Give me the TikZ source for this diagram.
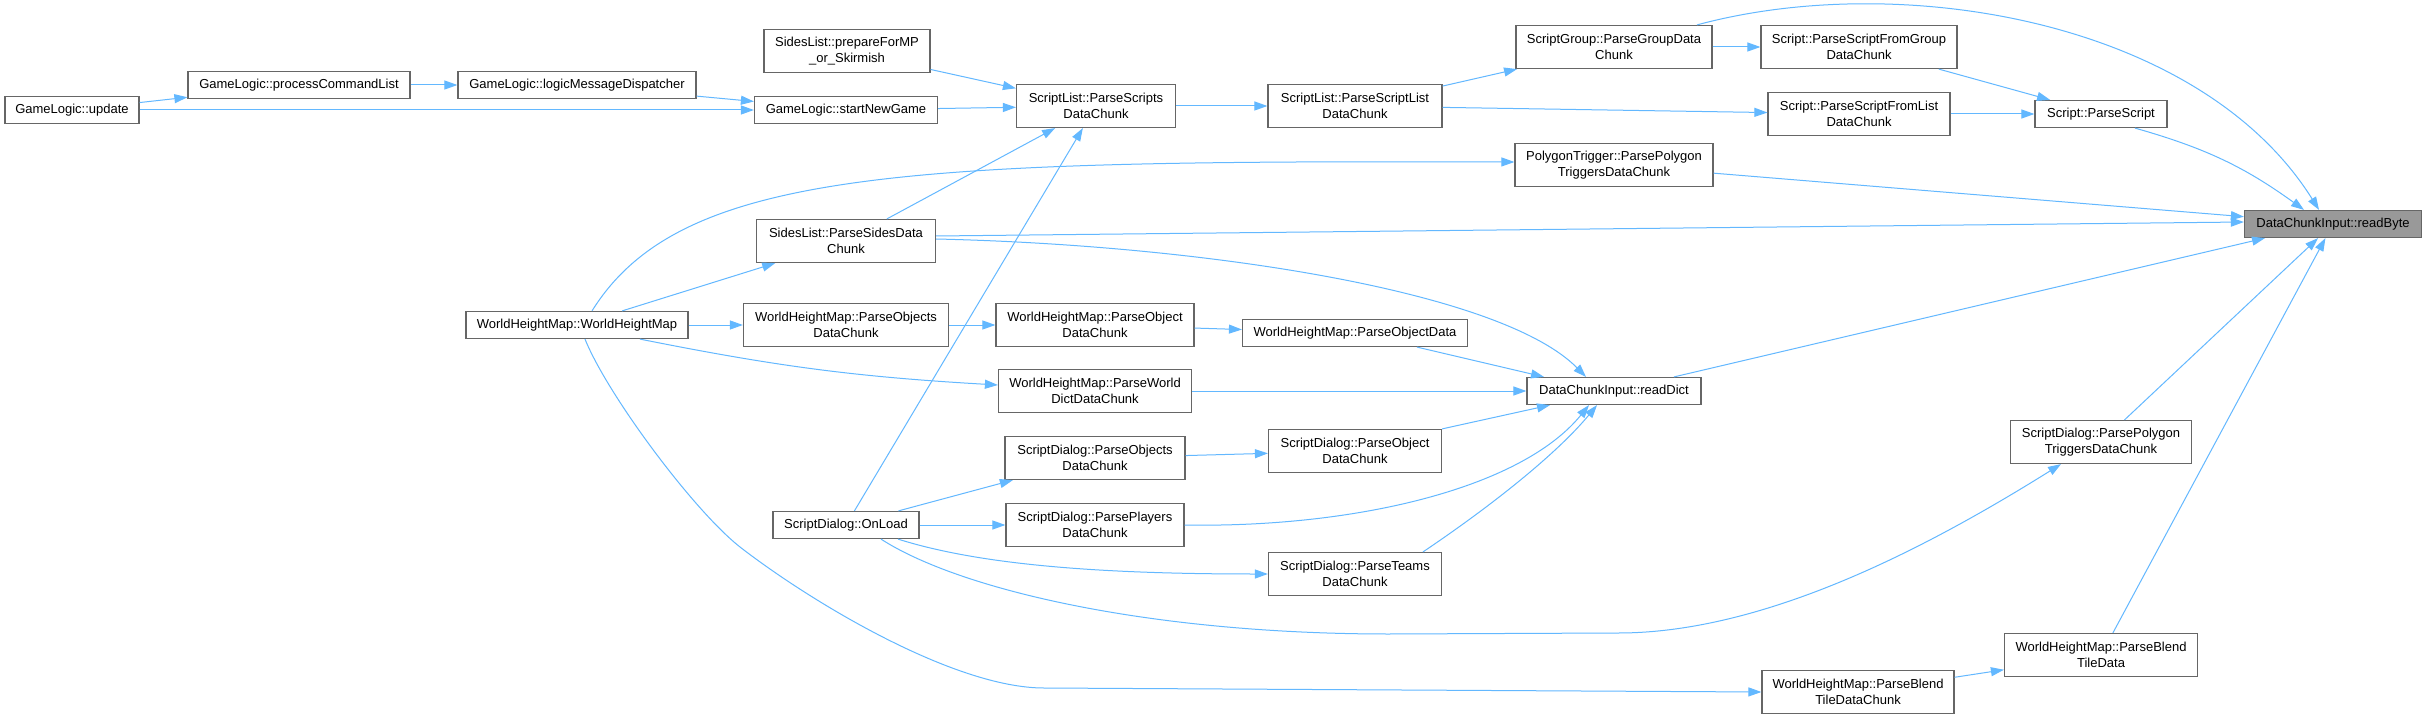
\documentclass[tikz,border=0pt]{standalone}
\usepackage{fontspec}
\setmainfont{Liberation Sans}
\usetikzlibrary{arrows.meta}
\definecolor{edgeblue}{HTML}{63B8FF}
\definecolor{boxgray}{HTML}{666666}
\definecolor{curfill}{HTML}{999999}
\tikzset{
  box/.style={draw=boxgray, line width=1.2pt, fill=white, inner sep=0pt, align=center,
    font=\fontsize{13pt}{15.5pt}\selectfont, minimum height=27pt},
  box2/.style={box, minimum height=43pt},
  cur/.style={box, fill=curfill},
  edge/.style={draw=edgeblue, line width=1pt, -{Triangle[length=13pt,width=9pt]}}
}
\begin{document}
\begin{tikzpicture}[x=1pt,y=-1pt]
\useasboundingbox[fill=white] (0,0) rectangle (2427,719);
% nodes
\node[box, minimum width=134pt] (upd) at (72,110) {GameLogic::update};
\node[box, minimum width=222pt] (pcl) at (299,85) {GameLogic::processCommandList};
\node[box, minimum width=238pt] (lmd) at (577,85) {GameLogic::logicMessageDispatcher};
\node[box, minimum width=222pt] (whm) at (577,325) {WorldHeightMap::WorldHeightMap};
\node[box2, minimum width=166pt] (pmp) at (847,51) {SidesList::prepareForMP\\\_or\_Skirmish};
\node[box, minimum width=183pt] (sng) at (846,110) {GameLogic::startNewGame};
\node[box2, minimum width=159pt] (psd) at (1096,106) {ScriptList::ParseScripts\\DataChunk};
\node[box2, minimum width=174pt] (psl) at (1355,106) {ScriptList::ParseScriptList\\DataChunk};
\node[box2, minimum width=179pt] (sds) at (846,241) {SidesList::ParseSidesData\\Chunk};
\node[box2, minimum width=205pt] (wos) at (846,325) {WorldHeightMap::ParseObjects\\DataChunk};
\node[box2, minimum width=198pt] (wob) at (1095,325) {WorldHeightMap::ParseObject\\DataChunk};
\node[box, minimum width=225pt] (wod) at (1355,333) {WorldHeightMap::ParseObjectData};
\node[box2, minimum width=196pt] (sgp) at (1614,47) {ScriptGroup::ParseGroupData\\Chunk};
\node[box2, minimum width=196pt] (sfg) at (1859,47) {Script::ParseScriptFromGroup\\DataChunk};
\node[box2, minimum width=182pt] (sfl) at (1859,114) {Script::ParseScriptFromList\\DataChunk};
\node[box, minimum width=132pt] (psc) at (2101,114) {Script::ParseScript};
\node[box2, minimum width=198pt] (ptr) at (1614,165) {PolygonTrigger::ParsePolygon\\TriggersDataChunk};
\node[cur, minimum width=177pt] (rby) at (2333,224) {DataChunkInput::readByte};
\node[box2, minimum width=193pt] (wwd) at (1095,391) {WorldHeightMap::ParseWorld\\DictDataChunk};
\node[box, minimum width=174pt] (rdi) at (1614,391) {DataChunkInput::readDict};
\node[box2, minimum width=180pt] (dos) at (1095,458) {ScriptDialog::ParseObjects\\DataChunk};
\node[box2, minimum width=178pt] (dpl) at (1095,525) {ScriptDialog::ParsePlayers\\DataChunk};
\node[box, minimum width=146pt] (onl) at (846,525) {ScriptDialog::OnLoad};
\node[box2, minimum width=173pt] (dob) at (1355,451) {ScriptDialog::ParseObject\\DataChunk};
\node[box2, minimum width=173pt] (dtm) at (1355,574) {ScriptDialog::ParseTeams\\DataChunk};
\node[box2, minimum width=181pt] (dpt) at (2101,442) {ScriptDialog::ParsePolygon\\TriggersDataChunk};
\node[box2, minimum width=193pt] (btd) at (2101,655) {WorldHeightMap::ParseBlend\\TileData};
\node[box2, minimum width=192pt] (btc) at (1858,692) {WorldHeightMap::ParseBlend\\TileDataChunk};
% edges
\draw[edge] (upd) -- (pcl);
\draw[edge] (upd) -- (sng);
\draw[edge] (pcl) -- (lmd);
\draw[edge] (lmd) -- (sng);
\draw[edge] (pmp) -- (psd);
\draw[edge] (sng) -- (psd);
\draw[edge] (psd) -- (psl);
\draw[edge] (psl) -- (sgp);
\draw[edge] (psl) -- (sfl);
\draw[edge] (sgp) -- (sfg);
\draw[edge] ([xshift=83pt]sgp.north) .. controls (1900,-30) and (2200,20) .. ([xshift=-14pt]rby.north);
\draw[edge] (sfg) -- (psc);
\draw[edge] (sfl) -- (psc);
\draw[edge] ([xshift=34pt]psc.south) to[bend left=10] ([xshift=-29pt]rby.north);
\draw[edge] (ptr) -- (rby);
\draw[edge] ([yshift=5pt]sds.east) -- ([yshift=2pt]rby.west);
\draw[edge] (sds) -- (psd);
\draw[edge] ([yshift=2pt]sds.east) .. controls (1200,245) and (1500,290) .. ([xshift=-28pt]rdi.north);
\draw[edge] ([xshift=15pt]whm.north) .. controls (680,170) and (900,160) .. ([yshift=3pt]ptr.west);
\draw[edge] (whm) -- (sds);
\draw[edge] (whm) -- (wos);
\draw[edge] ([xshift=63pt]whm.south) to[bend right=4] ([yshift=6pt]wwd.west);
\draw[edge] ([xshift=8pt]whm.south) .. controls (607,394) and (693,510) .. (740,547)
  .. controls (811,602) and (954,688) .. (1044,688) -- (btc.west);
\draw[edge] (wos) -- (wob);
\draw[edge] (wob) -- (wod);
\draw[edge] ([xshift=62pt]wod.south) -- ([xshift=-70pt]rdi.north);
\draw[edge] (wwd) -- (rdi);
\draw[edge] ([xshift=60pt]rdi.north) -- ([xshift=-68pt]rby.south);
\draw[edge] (onl) -- (psd);
\draw[edge] (onl) -- (dos);
\draw[edge] (onl) -- (dpl);
\draw[edge] ([xshift=52pt]onl.south) .. controls (980,565) and (1100,574) .. (dtm.west);
\draw[edge] ([xshift=35pt]onl.south) .. controls (960,590) and (1150,634) .. (1389,634)
  -- (1618,633) .. controls (1768,633) and (1933,544) .. ([xshift=-40pt]dpt.south);
\draw[edge] (dos) -- (dob);
\draw[edge] (dob.north east) -- ([xshift=-64pt]rdi.south);
\draw[edge] (dpl.east) .. controls (1350,528) and (1520,490) .. ([xshift=-25pt]rdi.south);
\draw[edge] ([xshift=68pt]dtm.north) .. controls (1500,500) and (1560,450) .. ([xshift=-17pt]rdi.south);
\draw[edge] (dpt) -- (rby);
\draw[edge] (btc) -- (btd);
\draw[edge] (btd) -- (rby);
\end{tikzpicture}
\end{document}
